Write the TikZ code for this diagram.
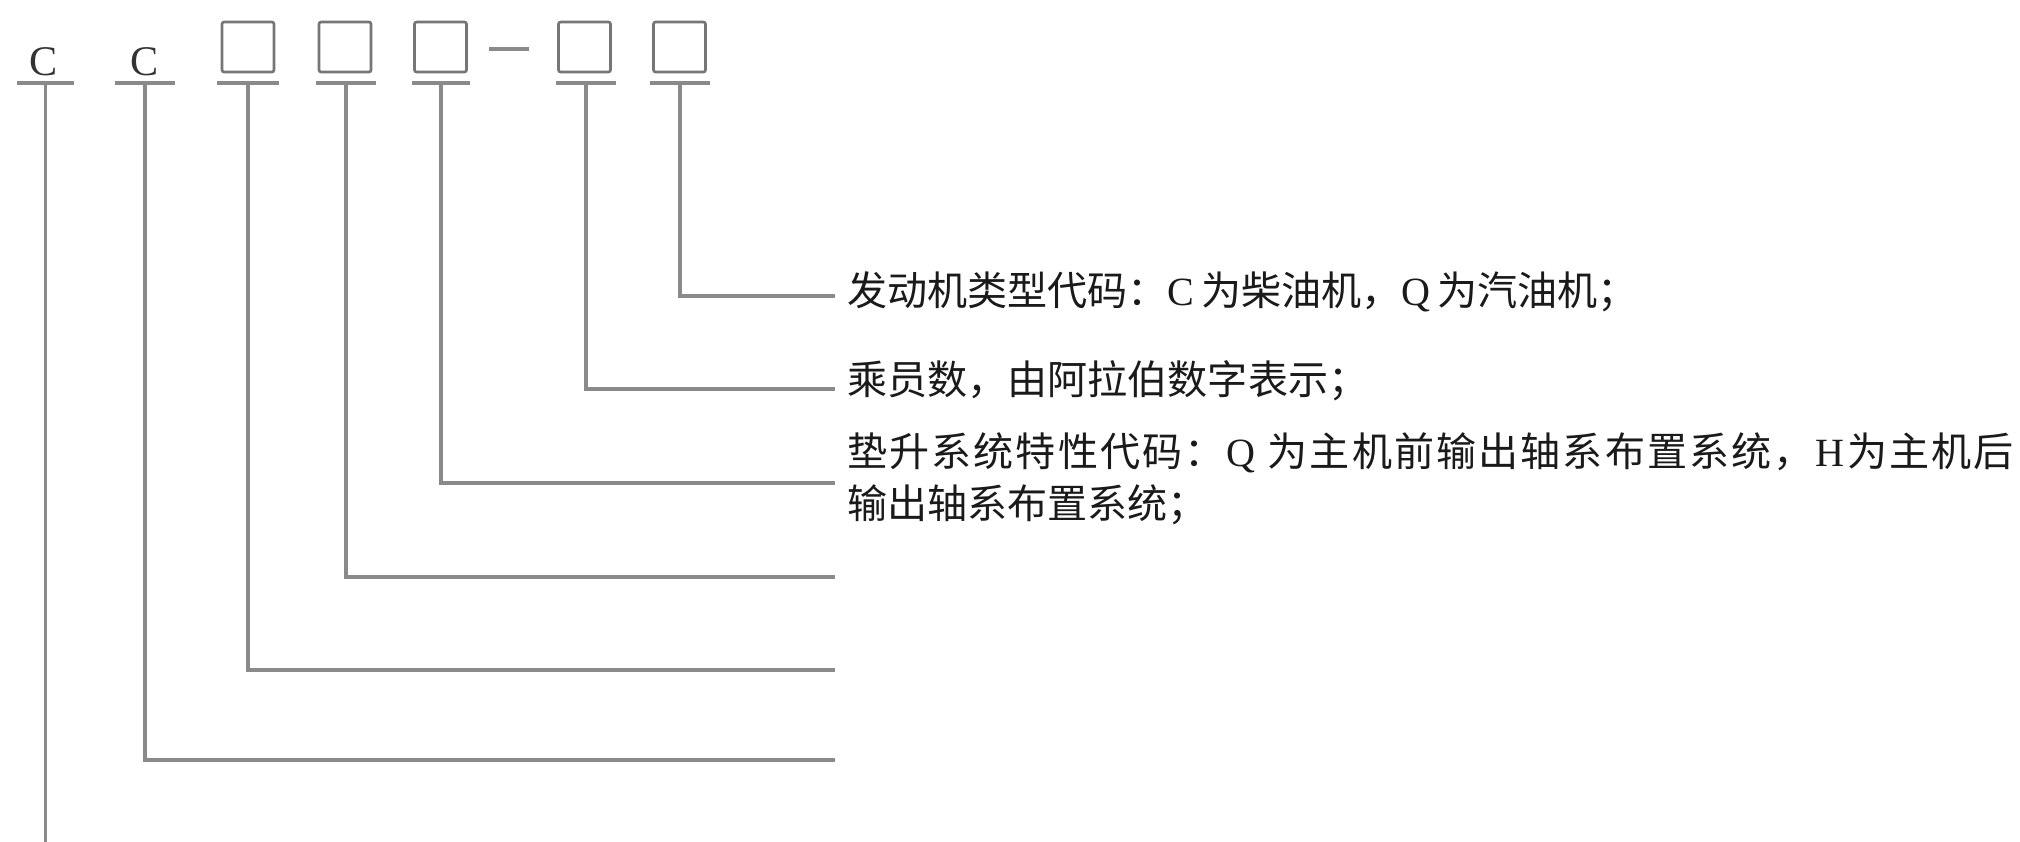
\documentclass[tikz,border=0pt]{standalone}
\usepackage{fontspec}
\setmainfont{Liberation Serif}
\newfontfamily\cjk{Noto Sans CJK SC}
\definecolor{linegray}{HTML}{8A8A8A}
\definecolor{boxgray}{HTML}{767676}
\definecolor{lettergray}{HTML}{333333}
\definecolor{textblack}{HTML}{1A1A1A}
\def\spreadchars#1{\spreadA#1\relax}
\def\spreadA#1{\ifx#1\relax\else{\cjk#1}\hfill\expandafter\spreadA\fi}
\begin{document}
\begin{tikzpicture}[x=0.025cm,y=-0.025cm,
  conn/.style={draw=linegray, line width=2.4pt},
  uline/.style={fill=linegray, draw=none, minimum height=0.1cm, inner sep=0, outer sep=0},
  codebox/.style={draw=boxgray, line width=1.9pt, rounded corners=1.5pt, minimum width=1.3cm, minimum height=1.25cm, inner sep=0},
  letter/.style={font=\fontsize{30}{30}\selectfont, text=lettergray, inner sep=0, anchor=base},
  lbl/.style={font=\fontsize{28.5}{37}\selectfont, text=textblack, anchor=west, inner sep=0, align=left},
]
\useasboundingbox (0,0) rectangle (2020,842);
\fill[white] (0,0) rectangle (2020,842);

% code characters
\node[letter] (c1) at (44,75) {C};
\node[letter] (c2) at (145,75) {C};
\node[codebox] (b1) at (248,47) {};
\node[codebox] (b2) at (345,47) {};
\node[codebox] (b3) at (440.5,47) {};
\node[codebox] (b4) at (584.5,47) {};
\node[codebox] (b5) at (679.5,47) {};
\node[uline, minimum width=1.0cm, minimum height=0.08cm] (dash) at (509,49) {};

% underlines
\node[uline, minimum width=1.425cm] (uc1) at (45.5,83) {};
\node[uline, minimum width=1.51cm] (uc2) at (145,83) {};
\node[uline, minimum width=1.525cm] (u1) at (248,83) {};
\node[uline, minimum width=1.5cm] (u2) at (346,83) {};
\node[uline, minimum width=1.45cm] (u3) at (441,83) {};
\node[uline, minimum width=1.5cm] (u4) at (586,83) {};
\node[uline, minimum width=1.49cm] (u5) at (680,83) {};

% labels
\node[lbl] (t5) at (847,292) {{\cjk 发动机类型代码：}C\,{\cjk 为柴油机，}Q\,{\cjk 为汽油机；}};
\node[lbl] (t4) at (847,381) {{\cjk 乘员数，由阿拉伯数字表示；}};
\node[lbl] (t3) at (847,479) {\makebox[29.15cm][s]{\spreadchars{垫升系统特性代码：}Q\ \hfill\spreadchars{为主机前输出轴系布置系统，}H\hfill\spreadchars{为主机}{\cjk 后}}\\{\cjk 输出轴系布置系统；}};

% free ends of the connectors whose texts are blank
\coordinate (e2) at (835,577);
\coordinate (e1) at (835,670);
\coordinate (ec2) at (835,760);
\coordinate (ec1) at (45.5,845);

% connectors
\draw[conn] (u5.south) |- ([xshift=-0.3cm,yshift=-0.1cm]t5.west);
\draw[conn] (u4.south) |- ([xshift=-0.3cm,yshift=-0.2cm]t4.west);
\draw[conn] (u3.south) |- ([xshift=-0.3cm,yshift=-0.1cm]t3.west);
\draw[conn] (u2.south) |- (e2);
\draw[conn] (u1.south) |- (e1);
\draw[conn] (uc2.south) |- (ec2);
\draw[conn] (uc1.south) -- (ec1);
\end{tikzpicture}
\end{document}
